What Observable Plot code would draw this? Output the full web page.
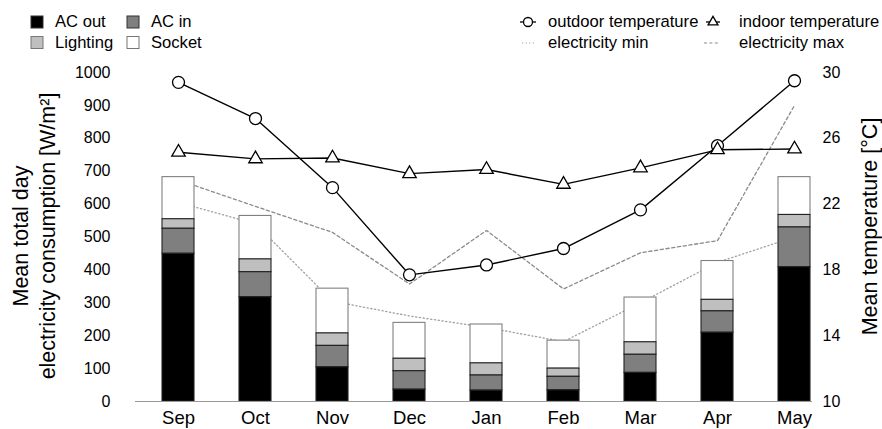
<!DOCTYPE html>
<html>
<head>
<meta charset="utf-8">
<script src="https://cdn.jsdelivr.net/npm/d3@7"></script>
<script src="https://cdn.jsdelivr.net/npm/@observablehq/plot@0.6"></script>
<style>
  html, body { margin: 0; padding: 0; background: #fff; }
  body { width: 882px; height: 429px; position: relative; overflow: hidden;
         font-family: "Liberation Sans", Arial, Helvetica, sans-serif; color: #000; }
  #legend { position: absolute; left: 0; top: 0; }
  #chart { position: absolute; left: 0; top: 55px; }
</style>
</head>
<body>
<svg id="legend" width="882" height="55" font-family="Liberation Sans, Arial, Helvetica, sans-serif" font-size="16.6" fill="#000"></svg>
<div id="chart"></div>
<script>
// ---- data ----
const months = ["Sep", "Oct", "Nov", "Dec", "Jan", "Feb", "Mar", "Apr", "May"];
const acOut    = [449, 317, 104, 36, 33, 34, 87, 209, 408];
const acIn     = [76, 76, 65, 56, 46, 41, 55, 65, 121];
const lighting = [29, 39, 38, 38, 37, 25, 38, 35, 38];
const socket   = [128, 132, 136, 109, 118, 85, 136, 118, 115];
const outdoorTemp = [29.4, 27.2, 23.0, 17.7, 18.3, 19.3, 21.65, 25.55, 29.5];
const indoorTemp  = [25.15, 24.75, 24.8, 23.85, 24.1, 23.2, 24.2, 25.3, 25.35];
const elecMin = [605, 540, 305, 260, 225, 182, 300, 423, 500];
const elecMax = [673, 593, 514, 357, 520, 342, 452, 489, 900];
const leftTicks = [0, 100, 200, 300, 400, 500, 600, 700, 800, 900, 1000];
const rightTicks = [10, 14, 18, 22, 26, 30];

const types = ["AC out", "AC in", "Lighting", "Socket"];
const fills = {"AC out": "#000000", "AC in": "#7f7f7f", "Lighting": "#bfbfbf", "Socket": "#ffffff"};
const strokes = {"AC out": "#222222", "AC in": "#222222", "Lighting": "#222222", "Socket": "#808080"};

// temperature (right axis 10..30) mapped onto left-axis units (0..1000)
const tToY = t => (t - 10) * 50;

// long table for stacked bars (Socket first so it is drawn underneath)
const series = {"AC out": acOut, "AC in": acIn, "Lighting": lighting, "Socket": socket};
const barData = [];
["Socket", "Lighting", "AC in", "AC out"].forEach(type => {
  months.forEach((m, i) => barData.push({month: m, type, value: series[type][i]}));
});
const outdoorData = months.map((m, i) => ({month: m, y: tToY(outdoorTemp[i])}));
const indoorData = months.map((m, i) => ({month: m, y: tToY(indoorTemp[i])}));
const minData = months.map((m, i) => ({month: m, y: elecMin[i]}));
const maxData = months.map((m, i) => ({month: m, y: elecMax[i]}));

const font = "Liberation Sans, Arial, Helvetica, sans-serif";

const chart = Plot.plot({
  width: 882,
  height: 374,
  marginLeft: 135,
  marginRight: 70,
  marginTop: 17,
  marginBottom: 28,
  style: {fontFamily: font, color: "#000", background: "transparent", overflow: "visible"},
  x: {domain: months, paddingInner: 0.588, paddingOuter: 0.156, align: 0.92, label: null},
  y: {domain: [0, 1000], label: null},
  marks: [
    Plot.line(minData, {x: "month", y: "y", stroke: "#a0a0a0", strokeWidth: 1.3, strokeDasharray: "1.2,2.6"}),
    Plot.line(maxData, {x: "month", y: "y", stroke: "#8a8a8a", strokeWidth: 1.3, strokeDasharray: "3.2,2.6"}),
    Plot.barY(barData, Plot.stackY({
      x: "month", y: "value", z: "type", order: types,
      fill: d => fills[d.type], stroke: d => strokes[d.type], strokeWidth: 1.1
    })),
    Plot.ruleY([0], {stroke: "#999", strokeWidth: 1}),
    Plot.line(outdoorData, {x: "month", y: "y", stroke: "#000", strokeWidth: 1.4}),
    Plot.line(indoorData, {x: "month", y: "y", stroke: "#000", strokeWidth: 1.4}),
    Plot.dot(outdoorData, {x: "month", y: "y", r: 6, symbol: "circle", fill: "#fff", stroke: "#000", strokeWidth: 1.3}),
    Plot.dot(indoorData, {x: "month", y: "y", r: 5, symbol: "triangle", fill: "#fff", stroke: "#000", strokeWidth: 1.3}),
    Plot.axisY({anchor: "left", ticks: leftTicks, tickFormat: d => String(d), tickSize: 0, tickPadding: 25, fontSize: 16, label: null}),
    Plot.axisY({anchor: "right", ticks: rightTicks.map(tToY), tickFormat: d => String(d / 50 + 10),
                tickSize: 0, tickPadding: 10, fontSize: 16, label: null}),
    Plot.axisX({tickSize: 0, tickPadding: 9, fontSize: 18.5, label: null})
  ]
});
document.getElementById("chart").appendChild(chart);

// axis titles
const svg = d3.select(chart);
const titles = svg.append("g").attr("font-family", font).attr("font-size", 21.5).attr("fill", "#000").attr("text-anchor", "middle");
titles.append("text").attr("transform", "translate(28,181) rotate(-90)").text("Mean total day");
titles.append("text").attr("transform", "translate(55,181) rotate(-90)").text("electricity consumption [W/m²]");
titles.append("text").attr("transform", "translate(877,171.5) rotate(-90)").text("Mean temperature [°C]");

// legend
const lg = d3.select("#legend");
const sw = [
  {label: "AC out", x: 31, y: 16, fill: fills["AC out"], stroke: "#333"},
  {label: "AC in", x: 127, y: 16, fill: fills["AC in"], stroke: "#333"},
  {label: "Lighting", x: 31, y: 36.5, fill: fills["Lighting"], stroke: "#777"},
  {label: "Socket", x: 127, y: 36.5, fill: fills["Socket"], stroke: "#777"}
];
sw.forEach(s => {
  lg.append("rect").attr("x", s.x).attr("y", s.y).attr("width", 12).attr("height", 12)
    .attr("fill", s.fill).attr("stroke", s.stroke).attr("stroke-width", 1);
  lg.append("text").attr("x", s.x + 24).attr("y", s.y + 11).text(s.label);
});
// right legend
lg.append("line").attr("x1", 520).attr("x2", 536).attr("y1", 22).attr("y2", 22).attr("stroke", "#000").attr("stroke-width", 1.3);
lg.append("circle").attr("cx", 528).attr("cy", 22).attr("r", 4.5).attr("fill", "#fff").attr("stroke", "#000").attr("stroke-width", 1.3);
lg.append("text").attr("x", 548).attr("y", 27).text("outdoor temperature");
lg.append("line").attr("x1", 706).attr("x2", 720).attr("y1", 22).attr("y2", 22).attr("stroke", "#000").attr("stroke-width", 1.3);
lg.append("path").attr("d", d3.symbol(d3.symbolTriangle, 42)()).attr("transform", "translate(713,22)")
  .attr("fill", "#fff").attr("stroke", "#000").attr("stroke-width", 1.3);
lg.append("text").attr("x", 739).attr("y", 27).text("indoor temperature");
lg.append("line").attr("x1", 522).attr("x2", 535).attr("y1", 43).attr("y2", 43).attr("stroke", "#a0a0a0").attr("stroke-width", 1.2).attr("stroke-dasharray", "1.2,2.4");
lg.append("text").attr("x", 548).attr("y", 48).text("electricity min");
lg.append("line").attr("x1", 704).attr("x2", 718).attr("y1", 43).attr("y2", 43).attr("stroke", "#8a8a8a").attr("stroke-width", 1.2).attr("stroke-dasharray", "3,2.4");
lg.append("text").attr("x", 739).attr("y", 48).text("electricity max");
</script>
</body>
</html>
